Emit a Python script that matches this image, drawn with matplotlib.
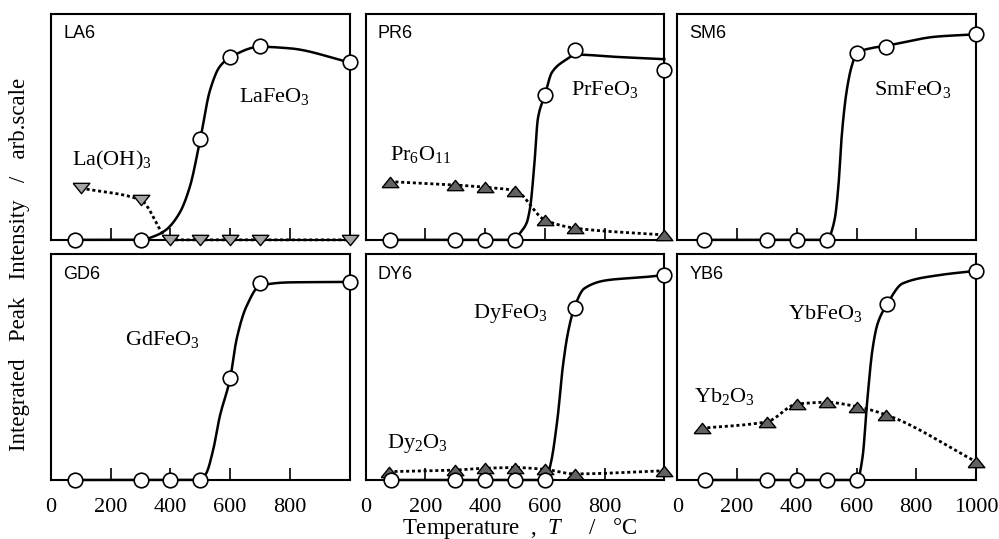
import numpy as np
import matplotlib
matplotlib.use("Agg")
import matplotlib.pyplot as plt

plt.rcParams['font.family'] = ['Liberation Serif', 'DejaVu Serif']
plt.rcParams['mathtext.fontset'] = 'custom'
plt.rcParams['mathtext.rm'] = 'Liberation Serif'
plt.rcParams['mathtext.it'] = 'Liberation Serif:italic'

# ---- data (x: temperature / C, y: relative intensity 0..1) ----
# LA6
la_t = [80, 300, 500, 600, 700, 1000]
la_y = [0, 0, 0.446, 0.808, 0.86, 0.786]
la_fit_t = [80, 300, 353, 385, 431, 465, 500, 532, 565, 600, 700, 800, 1000]
la_fit_y = [0, 0, 0.02, 0.044, 0.12, 0.235, 0.446, 0.66, 0.767, 0.808, 0.855, 0.848, 0.786]
la_ox_t = [100, 300, 400, 500, 600, 700, 1000]
la_ox_y = [0.229, 0.177, 0, 0, 0, 0, 0]

# PR6
pr_t = [80, 300, 400, 500, 600, 700, 1000]
pr_y = [0, 0, 0, 0, 0.64, 0.84, 0.752]
pr_fit_t = [80, 300, 400, 500, 517, 539, 551, 564, 577, 600, 623, 662, 707, 841, 1000]
pr_fit_y = [0, 0, 0, 0, 0.03, 0.075, 0.146, 0.32, 0.54, 0.64, 0.74, 0.79, 0.82, 0.81, 0.80]
pr_ox_t = [80, 300, 400, 500, 600, 700, 1000]
pr_ox_y = [0.258, 0.243, 0.233, 0.218, 0.088, 0.052, 0.022]

# SM6
sm_t = [88, 300, 400, 500, 600, 700, 1000]
sm_y = [0, 0, 0, 0, 0.826, 0.855, 0.91]
sm_fit_t = [88, 300, 400, 506, 517, 528, 540, 551, 567, 584, 601, 646, 701, 868, 1000]
sm_fit_y = [0, 0, 0, 0, 0.04, 0.10, 0.25, 0.47, 0.66, 0.77, 0.826, 0.848, 0.86, 0.90, 0.91]

# GD6
gd_t = [80, 300, 400, 500, 600, 700, 1000]
gd_y = [0, 0, 0, 0, 0.45, 0.873, 0.877]
gd_fit_t = [80, 300, 400, 500, 520, 543, 565, 600, 621, 654, 700, 800, 1000]
gd_fit_y = [0, 0, 0, 0, 0.03, 0.133, 0.28, 0.45, 0.62, 0.767, 0.86, 0.875, 0.877]

# DY6
dy_t = [84, 300, 400, 500, 600, 700, 1000]
dy_y = [0, 0, 0, 0, 0, 0.76, 0.907]
dy_fit_t = [84, 300, 400, 500, 603, 620, 643, 660, 677, 698, 732, 810, 922, 1000]
dy_fit_y = [0, 0, 0, 0, 0, 0.074, 0.28, 0.50, 0.65, 0.76, 0.848, 0.885, 0.897, 0.907]
dy_ox_t = [77, 300, 400, 500, 600, 700, 1000]
dy_ox_y = [0.037, 0.044, 0.052, 0.055, 0.047, 0.027, 0.041]

# YB6
yb_t = [92, 300, 400, 500, 603, 703, 1000]
yb_y = [0, 0, 0, 0, 0, 0.78, 0.926]
yb_fit_t = [92, 300, 400, 500, 603, 620, 636, 653, 670, 703, 754, 876, 1000]
yb_fit_y = [0, 0, 0, 0, 0, 0.10, 0.354, 0.575, 0.69, 0.78, 0.87, 0.907, 0.926]
yb_ox_t = [81, 300, 400, 500, 600, 700, 1000]
yb_ox_y = [0.229, 0.258, 0.336, 0.344, 0.325, 0.288, 0.081]


def pchip(x, y, xs):
    # monotone cubic through the read-off guide points, just to draw smooth lines
    x = np.asarray(x, float)
    y = np.asarray(y, float)
    h = np.diff(x)
    d = np.diff(y) / h
    m = np.zeros_like(y)
    for k in range(1, len(x) - 1):
        if d[k - 1] * d[k] > 0:
            w1 = 2 * h[k] + h[k - 1]
            w2 = h[k] + 2 * h[k - 1]
            m[k] = (w1 + w2) / (w1 / d[k - 1] + w2 / d[k])
    m[0] = d[0]
    m[-1] = d[-1]
    i = np.clip(np.searchsorted(x, xs) - 1, 0, len(x) - 2)
    t = (xs - x[i]) / h[i]
    h00 = 2 * t**3 - 3 * t**2 + 1
    h10 = t**3 - 2 * t**2 + t
    h01 = -2 * t**3 + 3 * t**2
    h11 = t**3 - t**2
    return h00 * y[i] + h10 * h[i] * m[i] + h01 * y[i + 1] + h11 * h[i] * m[i + 1]


tri_up = [(-1, -0.62), (1, -0.62), (0, 0.62), (-1, -0.62)]
tri_dn = [(-1, 0.62), (1, 0.62), (0, -0.62), (-1, 0.62)]

panels = [
    dict(name='LA6', pos=(0.051, 0.555), t=la_t, y=la_y, ft=la_fit_t, fy=la_fit_y,
         ot=la_ox_t, oy=la_ox_y, marker=tri_dn, ofill='#a4a4a4',
         lab=('LaFeO$_3$', 630, 0.633), olab=('La(OH)$_3$', 70, 0.35)),
    dict(name='PR6', pos=(0.366, 0.555), t=pr_t, y=pr_y, ft=pr_fit_t, fy=pr_fit_y,
         ot=pr_ox_t, oy=pr_ox_y, marker=tri_up, ofill='#626262',
         lab=('PrFeO$_3$', 687, 0.664), olab=('Pr$_6$O$_{11}$', 80, 0.376)),
    dict(name='SM6', pos=(0.678, 0.555), t=sm_t, y=sm_y, ft=sm_fit_t, fy=sm_fit_y,
         lab=('SmFeO$_3$', 659, 0.664)),
    dict(name='GD6', pos=(0.051, 0.1095), t=gd_t, y=gd_y, ft=gd_fit_t, fy=gd_fit_y,
         lab=('GdFeO$_3$', 247, 0.62), ticklabels=['0', '200', '400', '600', '800', '']),
    dict(name='DY6', pos=(0.366, 0.1095), t=dy_t, y=dy_y, ft=dy_fit_t, fy=dy_fit_y,
         ot=dy_ox_t, oy=dy_ox_y, marker=tri_up, ofill='#626262',
         lab=('DyFeO$_3$', 358, 0.737), olab=('Dy$_2$O$_3$', 73, 0.162),
         ticklabels=['0', '200', '400', '600', '800', '']),
    dict(name='YB6', pos=(0.678, 0.1095), t=yb_t, y=yb_y, ft=yb_fit_t, fy=yb_fit_y,
         ot=yb_ox_t, oy=yb_ox_y, marker=tri_up, ofill='#626262',
         lab=('YbFeO$_3$', 370, 0.737), olab=('Yb$_2$O$_3$', 57, 0.369),
         ticklabels=['0', '200', '400', '600', '800', '1000']),
]

fig = plt.figure(figsize=(9.99, 5.39), dpi=100)

for p in panels:
    ax = fig.add_axes([p['pos'][0], p['pos'][1], 0.299, 0.419])
    ax.set_xlim(0, 1000)
    ax.set_ylim(0, 1)
    ax.set_yticks([])
    for s in ax.spines.values():
        s.set_linewidth(1.5)

    xs = np.linspace(p['ft'][0], p['ft'][-1], 400)
    ax.plot(xs, pchip(p['ft'], p['fy'], xs), color='black', lw=1.8, zorder=3, clip_on=False)

    if 'ot' in p:
        xo = np.linspace(p['ot'][0], p['ot'][-1], 400)
        ax.plot(xo, pchip(p['ot'], p['oy'], xo), color='black', lw=2.0,
                linestyle=(0, (1.1, 1.0)), dash_capstyle='butt', zorder=3, clip_on=False)
        ax.plot(p['ot'], p['oy'], linestyle='none', marker=p['marker'], ms=12,
                mfc=p['ofill'], mec='black', mew=1.0, zorder=5, clip_on=False)

    ax.plot(p['t'], p['y'], linestyle='none', marker='o', ms=10.5, mfc='white',
            mec='black', mew=1.2, zorder=6, clip_on=False)

    txt, tx, ty = p['lab']
    ax.text(tx, ty, txt, fontsize=16, va='center', ha='left')
    if 'olab' in p:
        txt, tx, ty = p['olab']
        ax.text(tx, ty, txt, fontsize=16, va='center', ha='left')

    ax.text(0.041, 0.912, p['name'], transform=ax.transAxes, family='Liberation Sans',
            fontsize=13, va='center', ha='left')

    if 'ticklabels' in p:
        ax.set_xticks([0, 200, 400, 600, 800, 1000])
        ax.set_xticklabels(p['ticklabels'])
    else:
        ax.set_xticks([200, 400, 600, 800])
        ax.set_xticklabels([])
    ax.tick_params(axis='x', direction='in', length=9, width=1.2, labelsize=16, pad=13)

fig.text(0.02, 0.51, 'Integrated   Peak   Intensity   /   arb.scale', rotation=90,
         fontsize=16.5, ha='center', va='center')
fig.text(0.5205, 0.02, 'Temperature  ,  $T$     /   °C', fontsize=16.5,
         ha='center', va='center')

fig.savefig('out.png', dpi=100)
